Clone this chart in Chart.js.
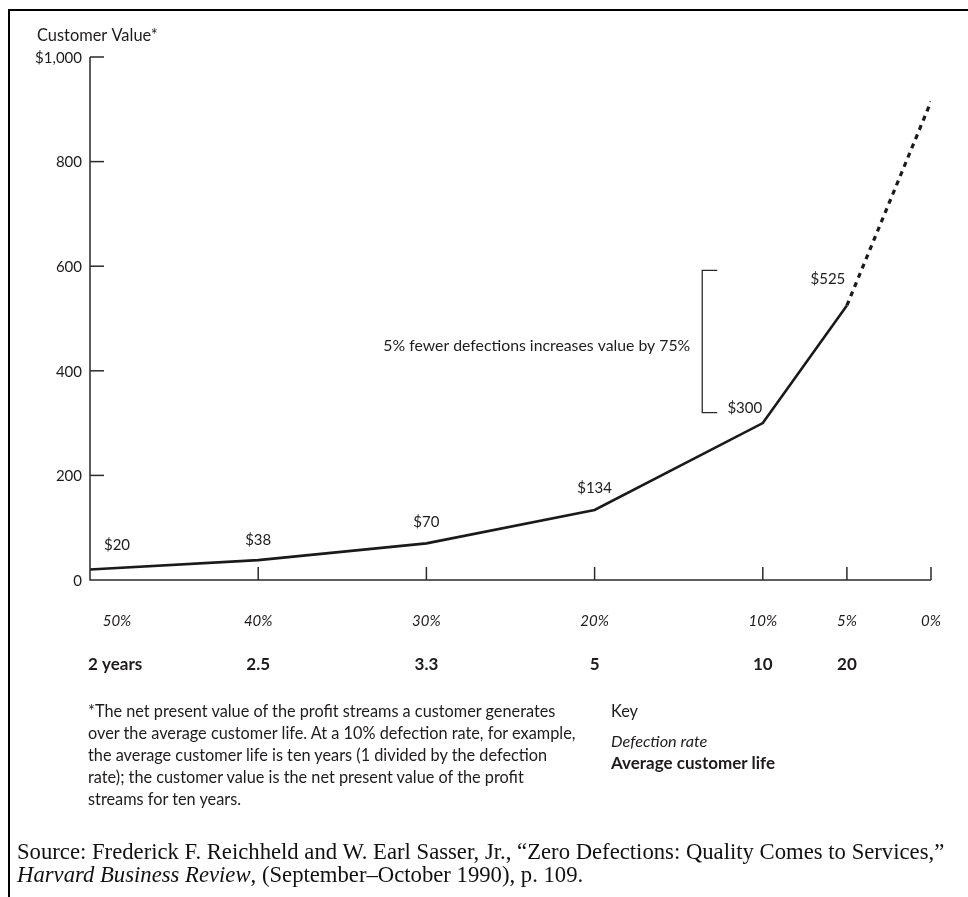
<!DOCTYPE html>
<html>
<head>
<meta charset="utf-8">
<script src="https://cdn.jsdelivr.net/npm/chart.js@4.4.1/dist/chart.umd.min.js"></script>
<style>
  html, body { margin: 0; padding: 0; background: #fff; }
  #page { position: relative; width: 968px; height: 897px; overflow: hidden; font-family: Lato, "Open Sans", sans-serif; color: #1e1b1c; }
  #frame { position: absolute; left: 8px; top: 9px; right: 0; bottom: 0; border-top: 2px solid #000; border-left: 2px solid #000; }
  canvas { position: absolute; left: 0; top: 0; }
  .note { position: absolute; font-size: 16.3px; line-height: 22px; }
  #footnote { left: 88px; top: 700px; }
  #key { left: 611px; top: 700px; }
  #key .rate { font-style: italic; margin-top: 8px; }
  #key .life { font-weight: bold; font-size: 17px; }
  #source { position: absolute; left: 17px; top: 840px; font-family: "Liberation Serif", "DejaVu Serif", serif; font-size: 22.7px; line-height: 23px; color: #111; }
</style>
</head>
<body>
<div id="page">
  <div id="frame"></div>
  <canvas id="valueChart" width="968" height="897"></canvas>
  <div class="note" id="footnote">*The net present value of the profit streams a customer generates<br>over the average customer life. At a 10% defection rate, for example,<br>the average customer life is ten years (1 divided by the defection<br>rate); the customer value is the net present value of the profit<br>streams for ten years.</div>
  <div class="note" id="key">Key<div class="rate">Defection rate</div><div class="life">Average customer life</div></div>
  <div id="source">Source: Frederick F. Reichheld and W. Earl Sasser, Jr., “Zero Defections: Quality Comes to Services,”<br><i>Harvard Business Review</i>, (September–October 1990), p. 109.</div>
</div>
<script>
// defection rate (%) along the x axis, read right to left
const defectionRates = [50, 40, 30, 20, 10, 5, 0];
const rateLabels = ['50%', '40%', '30%', '20%', '10%', '5%', '0%'];
const lifeLabels = ['2 years', '2.5', '3.3', '5', '10', '20', ''];

// customer value in dollars at each defection rate
const customerValues = [20, 38, 70, 134, 300, 525];
const valueLabels = ['$20', '$38', '$70', '$134', '$300', '$525'];

// projected part of the curve (dashed), from 5% to 0%
const projectedRates = [5, 0];
const projectedValues = [525, 915];

const yTicks = [0, 200, 400, 600, 800, 1000];
const yTickLabels = ['0', '200', '400', '600', '800', '$1,000'];

// bracket: 10% -> 5% step
const bracketRange = [320, 592];
const bracketText = '5% fewer defections increases value by 75%';

const ink = '#1e1b1c';
const sans = 'Lato, "Open Sans", sans-serif';

// label offsets (px) from each point
const labelShift = [[27, -24], [0, -20], [0, -21], [0, -22], [-18, -15], [-19, -26]];

const axesAndLabels = {
    id: 'axesAndLabels',
    afterDatasetsDraw(chart) {
        const ctx = chart.ctx;
        const x = chart.scales.x;
        const y = chart.scales.y;
        const left = x.getPixelForValue(50);
        const right = x.getPixelForValue(0);
        const bottom = y.getPixelForValue(0);
        const top = y.getPixelForValue(1000);

        ctx.save();
        ctx.strokeStyle = '#2a2a2a';
        ctx.lineWidth = 1.5;
        ctx.beginPath();
        ctx.moveTo(left, top);
        ctx.lineTo(left, bottom);
        ctx.lineTo(right, bottom);
        ctx.stroke();

        // y ticks point inward
        ctx.fillStyle = ink;
        ctx.font = '15px ' + sans;
        ctx.textAlign = 'right';
        ctx.textBaseline = 'middle';
        yTicks.forEach((v, i) => {
            const py = y.getPixelForValue(v);
            if (v > 0) {
                ctx.beginPath();
                ctx.moveTo(left, py);
                ctx.lineTo(left + 14, py);
                ctx.stroke();
            }
            ctx.fillText(yTickLabels[i], left - 8, py + 1);
        });

        // x ticks point up
        defectionRates.forEach((r, i) => {
            const px = x.getPixelForValue(r);
            if (r < 50) {
                ctx.beginPath();
                ctx.moveTo(px, bottom);
                ctx.lineTo(px, bottom - 13);
                ctx.stroke();
            }
            ctx.textAlign = 'center';
            ctx.font = 'italic 15px ' + sans;
            ctx.fillText(rateLabels[i], r === 50 ? px + 27 : px, bottom + 41);
            ctx.font = 'bold 17px ' + sans;
            if (r === 50) {
                ctx.textAlign = 'left';
                ctx.fillText(lifeLabels[i], px - 2, bottom + 85);
            } else {
                ctx.fillText(lifeLabels[i], px, bottom + 85);
            }
        });

        // axis title
        ctx.font = '16.4px ' + sans;
        ctx.textAlign = 'left';
        ctx.fillText('Customer Value*', 37, top - 21);

        // value labels
        ctx.font = '15px ' + sans;
        ctx.textAlign = 'center';
        customerValues.forEach((v, i) => {
            const px = x.getPixelForValue(defectionRates[i]) + labelShift[i][0];
            const py = y.getPixelForValue(v) + labelShift[i][1];
            ctx.fillText(valueLabels[i], px, py);
        });

        // bracket
        const bx = x.getPixelForValue(13.6);
        const b1 = y.getPixelForValue(bracketRange[0]);
        const b2 = y.getPixelForValue(bracketRange[1]);
        ctx.lineWidth = 1.3;
        ctx.beginPath();
        ctx.moveTo(bx + 15, b2);
        ctx.lineTo(bx, b2);
        ctx.lineTo(bx, b1);
        ctx.lineTo(bx + 15, b1);
        ctx.stroke();
        ctx.font = '15.8px ' + sans;
        ctx.textAlign = 'right';
        ctx.fillText(bracketText, bx - 12, (b1 + b2) / 2 + 4);
        ctx.restore();
    }
};

new Chart(document.getElementById('valueChart'), {
    type: 'line',
    data: {
        datasets: [
            {
                data: customerValues.map((v, i) => ({ x: defectionRates[i], y: v })),
                borderColor: '#1a1a1a',
                borderWidth: 2.6,
                pointRadius: 0,
                tension: 0
            },
            {
                data: projectedValues.map((v, i) => ({ x: projectedRates[i], y: v })),
                borderColor: '#1a1a1a',
                borderWidth: 3.2,
                borderDash: [5, 5],
                pointRadius: 0,
                tension: 0
            }
        ]
    },
    options: {
        responsive: false,
        animation: false,
        layout: { padding: { left: 90, right: 37, top: 57, bottom: 317 } },
        plugins: { legend: { display: false }, tooltip: { enabled: false } },
        scales: {
            x: { type: 'linear', reverse: true, min: 0, max: 50, display: false },
            y: { min: 0, max: 1000, display: false }
        }
    },
    plugins: [axesAndLabels]
});
</script>
</body>
</html>
